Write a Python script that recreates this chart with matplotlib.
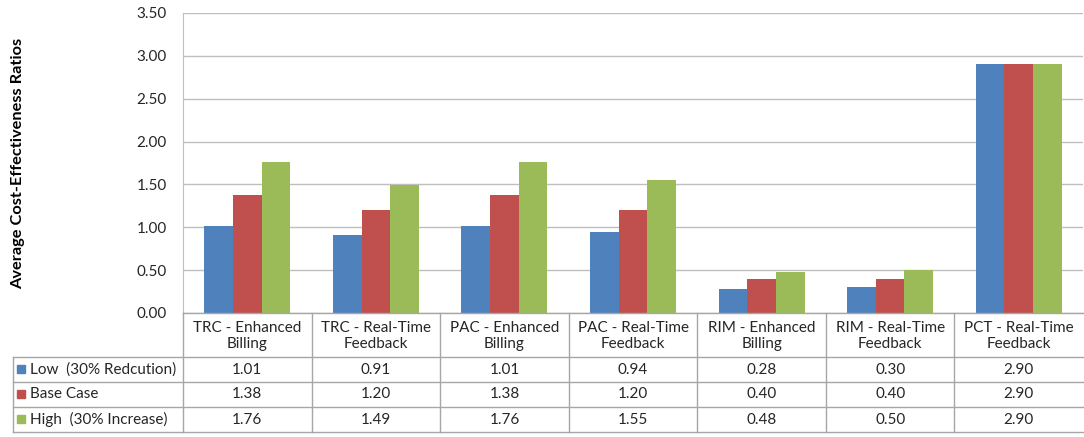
import matplotlib.pyplot as plt
import numpy as np
from matplotlib.ticker import FormatStrFormatter
from matplotlib.patches import Rectangle

plt.rcParams['font.family'] = ['Lato', 'DejaVu Sans']

categories = ["TRC - Enhanced\nBilling", "TRC - Real-Time\nFeedback",
              "PAC - Enhanced\nBilling", "PAC - Real-Time\nFeedback",
              "RIM - Enhanced\nBilling", "RIM - Real-Time\nFeedback",
              "PCT - Real-Time\nFeedback"]
series_names = ["Low  (30% Redcution)", "Base Case", "High  (30% Increase)"]
low = [1.01, 0.91, 1.01, 0.94, 0.28, 0.30, 2.90]
base = [1.38, 1.20, 1.38, 1.20, 0.40, 0.40, 2.90]
high = [1.76, 1.49, 1.76, 1.55, 0.48, 0.50, 2.90]
colors = ["#4F81BD", "#C0504D", "#9BBB59"]
y_label = "Average Cost-Effectiveness Ratios"

series = [low, base, high]

W, H = 1084, 437
fig = plt.figure(figsize=(W / 100, H / 100), dpi=100)


def box(x0, y0, x1, y1):
    return [x0 / W, 1 - y1 / H, (x1 - x0) / W, (y1 - y0) / H]


grid_c = "#BFBFBF"
text_c = "#262626"
fs = 11

# plot area
plot_l, plot_t, plot_r, plot_b = 183, 13, 1083, 313
ax = fig.add_axes(box(plot_l, plot_t, plot_r, plot_b))
x = np.arange(len(categories))
bw = 0.223
for i, (vals, c) in enumerate(zip(series, colors)):
    ax.bar(x + (i - 1) * bw, vals, bw, color=c, zorder=3, linewidth=0)

ax.set_xlim(-0.5, len(categories) - 0.5)
ax.set_ylim(0, 3.5)
ax.set_yticks(np.arange(0, 3.51, 0.5))
ax.yaxis.set_major_formatter(FormatStrFormatter('%.2f'))
ax.set_xticks([])
ax.tick_params(axis='y', length=0, pad=11.5, labelsize=fs, labelcolor=text_c)
ax.grid(axis='y', color=grid_c, lw=1, zorder=0)
for s in ['top', 'right', 'bottom']:
    ax.spines[s].set_visible(False)
ax.spines['left'].set_color(grid_c)

fig.text(11 / W, 1 - 163 / H, y_label, rotation=90, ha='left', va='center',
         fontsize=11.8, fontweight='bold', color='#000000')

# data table under the plot
tab_l, tab_t, tab_r, tab_b = 13, 313, 1083, 432
tab = fig.add_axes(box(tab_l, tab_t, tab_r, tab_b))
tab.set_xlim(tab_l, tab_r)
tab.set_ylim(tab_b, tab_t)
tab.axis('off')

line_c = "#A6A6A6"
row_y = [313, 357, 382, 407, 432]
ncat = len(categories)
col_w = (plot_r - plot_l) / ncat
col_x = [plot_l + k * col_w for k in range(ncat + 1)]

tab.plot([plot_l, tab_r], [row_y[0]] * 2, color=line_c, lw=1, clip_on=False)
for yy in row_y[1:]:
    tab.plot([tab_l, tab_r], [yy, yy], color=line_c, lw=1, clip_on=False)
tab.plot([tab_l, tab_l], [row_y[1], row_y[-1]], color=line_c, lw=1, clip_on=False)
for xx in col_x[:-1]:
    tab.plot([xx, xx], [row_y[0], row_y[-1]], color=line_c, lw=1, clip_on=False)

for k, cat in enumerate(categories):
    cx = (col_x[k] + col_x[k + 1]) / 2
    tab.text(cx, (row_y[0] + row_y[1]) / 2 + 1, cat, ha='center', va='center',
             fontsize=fs, color=text_c, linespacing=1.15)

for r, (name, vals, c) in enumerate(zip(series_names, series, colors)):
    cy = (row_y[r + 1] + row_y[r + 2]) / 2
    tab.add_patch(Rectangle((17, cy - 4.5), 8, 8, color=c, clip_on=False))
    tab.text(30, cy, name, ha='left', va='center', fontsize=fs, color=text_c)
    for k, v in enumerate(vals):
        cx = (col_x[k] + col_x[k + 1]) / 2
        tab.text(cx, cy, f"{v:.2f}", ha='center', va='center',
                 fontsize=fs, color=text_c)

fig.savefig("out.png", dpi=100, facecolor='white')
